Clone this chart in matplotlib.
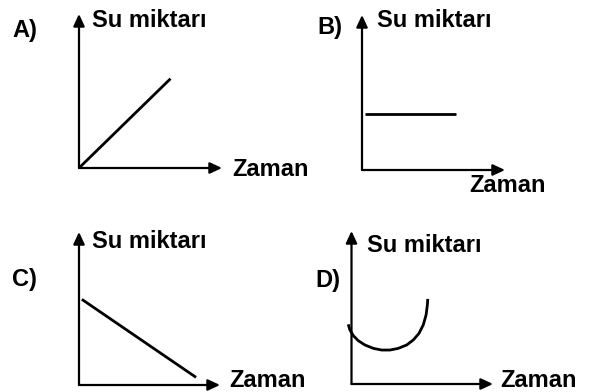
import matplotlib
matplotlib.use("Agg")
import matplotlib.pyplot as plt

W, H = 593, 392

# values, in units where each axis runs 0..10
a_time = [0.0, 6.4]
a_water = [0.0, 5.8]

b_time = [0.2, 6.6]
b_water = [3.6, 3.6]

c_time = [0.2, 8.3]
c_water = [5.6, 0.5]

d_time = [-0.23, -0.11, 0.13, 0.48, 0.95, 1.54, 2.13, 2.72,
          3.31, 3.90, 4.37, 4.77, 5.07, 5.27, 5.36, 5.39]
d_water = [3.90, 3.53, 3.16, 2.83, 2.55, 2.33, 2.22, 2.22,
           2.33, 2.55, 2.88, 3.31, 3.86, 4.51, 5.16, 5.56]

panel_names = ["A)", "B)", "C)", "D)"]
y_label = "Su miktarı"
x_label = "Zaman"

# layout in pixels: origin x, origin y, x tip, y tip
panels = {
    "A)": dict(org=(79, 168), xtip=222, ytip=14,
               name=(12, 37), ylab=(92, 27), xlab=(232, 176)),
    "B)": dict(org=(362, 170), xtip=505, ytip=15,
               name=(317, 34), ylab=(377, 27), xlab=(469, 192)),
    "C)": dict(org=(79, 385), xtip=220, ytip=232,
               name=(12, 286), ylab=(92, 248), xlab=(229, 387)),
    "D)": dict(org=(351.5, 384), xtip=493, ytip=231,
               name=(315, 287), ylab=(367, 252), xlab=(500, 387)),
}
series = {
    "A)": (a_time, a_water),
    "B)": (b_time, b_water),
    "C)": (c_time, c_water),
    "D)": (d_time, d_water),
}

font = dict(fontsize=17, fontweight="bold", family="Liberation Sans")

fig = plt.figure(figsize=(W / 100, H / 100), dpi=100)

def fx(px):
    return px / W

def fy(py):
    return 1 - py / H

for key in panel_names:
    p = panels[key]
    ox, oy = p["org"]
    ax = fig.add_axes([fx(ox), fy(oy), (p["xtip"] - ox) / W, (oy - p["ytip"]) / H])
    ax.set_xlim(0, 10)
    ax.set_ylim(0, 10)
    ax.axis("off")

    # axis arrows
    arrow = dict(arrowstyle="-|>,head_length=0.6,head_width=0.28", color="black",
                 lw=1.6, mutation_scale=12, shrinkA=0, shrinkB=0)
    ax.annotate("", xy=(1, 0), xytext=(0, 0), xycoords="axes fraction",
                arrowprops=arrow, annotation_clip=False)
    ax.annotate("", xy=(0, 1), xytext=(0, 0), xycoords="axes fraction",
                arrowprops=arrow, annotation_clip=False)

    t, w = series[key]
    ax.plot(t, w, color="black", lw=2.0, clip_on=False,
            solid_capstyle="butt", solid_joinstyle="round")

    fig.text(fx(p["name"][0]), fy(p["name"][1]), key, ha="left", va="baseline", **font)
    fig.text(fx(p["ylab"][0]), fy(p["ylab"][1]), y_label, ha="left", va="baseline", **font)
    fig.text(fx(p["xlab"][0]), fy(p["xlab"][1]), x_label, ha="left", va="baseline", **font)

fig.savefig("out.png", dpi=100, facecolor="white")
